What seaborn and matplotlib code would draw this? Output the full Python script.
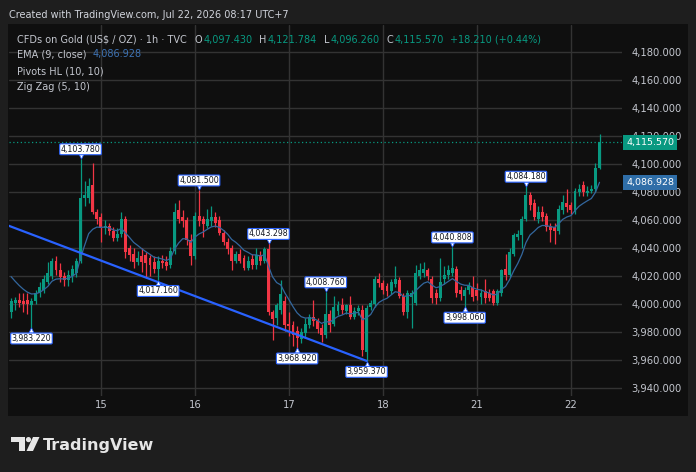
import numpy as np
import pandas as pd
import seaborn as sns
import matplotlib.pyplot as plt
import matplotlib.transforms as mtransforms

# hourly OHLC, CFDs on Gold (TVC), 14 Jul (part) .. 22 Jul 08:00 UTC+7
opens = [3994, 4001, 4003, 4002, 4003, 3999, 4002, 4008, 4010, 4016,
         4020, 4031, 4024, 4020, 4017, 4020, 4022, 4031, 4076, 4076,
         4085, 4066, 4062, 4054, 4056, 4052, 4047, 4050, 4061, 4040,
         4036, 4030, 4034, 4035, 4033, 4030, 4025, 4031, 4030, 4028,
         4038, 4067, 4062, 4060, 4046, 4034, 4063, 4061, 4056, 4059,
         4062, 4060, 4051, 4044, 4040, 4031, 4036, 4033, 4026, 4032,
         4028, 4035, 4031, 4039, 3994, 3990, 3996, 4002, 3986, 3985,
         3981, 3975, 3979, 3985, 3991, 3988, 3983, 3978, 3993, 3986,
         3995, 3999, 3995, 3999, 3991, 3995, 3996, 3966, 3998, 4000,
         4018, 4015, 4013, 4009, 4014, 4017, 4006, 3994, 4005, 4001,
         4020, 4022, 4024, 4018, 4008, 4004, 4018, 4021, 4022, 4025,
         4010, 4006, 4010, 4012, 4010, 4005, 4009, 4008, 4009, 4001,
         4008, 4025, 4021, 4036, 4048, 4049, 4061, 4078, 4072, 4061,
         4066, 4063, 4056, 4055, 4052, 4067, 4072, 4071, 4066, 4080,
         4085, 4079, 4081, 4082, 4097.43]
highs = [4004, 4005, 4008, 4008, 4008, 4004, 4010, 4016, 4021, 4030,
         4033, 4034, 4029, 4023, 4024, 4028, 4033, 4103.78, 4088, 4090,
         4101, 4068, 4065, 4060, 4058, 4055, 4054, 4066, 4063, 4042,
         4040, 4038, 4040, 4037, 4035, 4034, 4034, 4035, 4034, 4041,
         4072, 4074, 4067, 4062, 4050, 4066, 4081.5, 4063, 4068, 4070,
         4066, 4063, 4053, 4047, 4042, 4038, 4039, 4035, 4034, 4036,
         4040, 4038, 4041, 4043.298, 3996, 4001, 4017, 4006, 3994, 3988,
         3984, 3983, 3990, 3993, 4003, 3990, 3986, 4008.76, 3996, 4006,
         4002, 4004, 4000, 4006, 3998, 3999, 3999, 3999, 4003, 4020,
         4022, 4017, 4015, 4018, 4027, 4019, 4008, 4010, 4010, 4028,
         4029, 4030, 4026, 4020, 4011, 4033, 4027, 4028, 4040.808, 4027,
         4013, 4012, 4016, 4020, 4015, 4011, 4018, 4011, 4011, 4011,
         4025, 4036, 4040, 4051, 4053, 4063, 4084.18, 4080, 4075, 4070,
         4070, 4065, 4058, 4058, 4071, 4078, 4082, 4073, 4083, 4086,
         4088, 4084, 4085, 4101, 4121.784]
lows = [3990, 3996, 3998, 3994, 3993, 3983.22, 4000, 4005, 4008, 4014,
        4018, 4021, 4016, 4013, 4013, 4016, 4019, 4029, 4070, 4072,
        4064, 4057, 4044, 4050, 4049, 4045, 4045, 4048, 4033, 4031,
        4026, 4028, 4023, 4019, 4020, 4022, 4017.16, 4026, 4024, 4026,
        4036, 4058, 4055, 4042, 4028, 4032, 4056, 4048, 4054, 4056,
        4055, 4049, 4042, 4036, 4024, 4029, 4029, 4024, 4024, 4025,
        4025, 4028, 4029, 3992, 3974, 3985, 3993, 3981, 3977, 3970,
        3968.92, 3972, 3976, 3983, 3984, 3979, 3973, 3976, 3980, 3984,
        3992, 3993, 3993, 3989, 3989, 3992, 3963, 3959.37, 3996, 3998,
        4012, 4007, 4006, 4007, 4012, 4004, 3992, 3990, 3983, 3999,
        4018, 4019, 4017, 4001, 4000, 4002, 4014, 4018, 4020, 4005,
        4003, 3998.06, 4007, 4002, 4003, 4000, 4001, 4002, 3999, 3999,
        4006, 4017, 4019, 4034, 4046, 4040, 4059, 4067, 4060, 4058,
        4059, 4052, 4044, 4043, 4050, 4064, 4066, 4064, 4064, 4077,
        4077, 4077, 4079, 4080, 4096.26]
closes = [4002, 4003, 4001, 4000, 4000, 4002, 4008, 4012, 4018, 4022,
          4031, 4024, 4019, 4017, 4021, 4025, 4031, 4076, 4078, 4084,
          4066, 4061, 4054, 4056, 4052, 4047, 4050, 4061, 4037, 4035,
          4030, 4033, 4030, 4029, 4028, 4025, 4031, 4029, 4027, 4038,
          4066, 4061, 4059, 4046, 4034, 4063, 4059, 4057, 4061, 4062,
          4058, 4051, 4044, 4039, 4031, 4036, 4031, 4026, 4031, 4028,
          4035, 4031, 4039, 3994, 3989, 3999, 4007, 3985, 3984, 3978,
          3976, 3980, 3986, 3991, 3988, 3982, 3978, 3993, 3985, 3998,
          3999, 3996, 3999, 3991, 3995, 3997, 3967, 3997, 4001, 4018,
          4015, 4010, 4009, 4016, 4018, 4006, 3994, 4008, 4008, 4022,
          4024, 4025, 4020, 4004, 4004, 4016, 4021, 4024, 4026, 4008,
          4007, 4010, 4013, 4005, 4006, 4008, 4004, 4004, 4001, 4009,
          4024, 4021, 4037, 4049, 4050, 4061, 4078, 4071, 4062, 4066,
          4062, 4055, 4053, 4052, 4068, 4073, 4069, 4067, 4081, 4082.47,
          4080, 4081, 4082, 4097.36, 4115.57]

ema_seed = 4024.0          # EMA(9) carried in from bars left of the window
day_ticks = [22, 45, 68, 91, 114, 137]
day_labels = ['15', '16', '17', '18', '21', '22']
price_ticks = [3940, 3960, 3980, 4000, 4020, 4040, 4060, 4080, 4100, 4120, 4140, 4160, 4180]
pivot_high_idx = [17, 46, 63, 77, 108, 126]
pivot_low_idx = [5, 36, 70, 87, 111]
zigzag_idx = [-4, 87]
zigzag_price = [4059.7, 3959.37]

GREEN = '#089981'
RED = '#f23645'
EMA_COLOR = '#33679e'
ZZ_BLUE = '#2962ff'
TXT = '#c3c6ce'

sns.set_theme(style='dark', rc={'axes.facecolor': '#0f0f0f', 'figure.facecolor': '#1e1e1e',
                                'grid.color': '#333333', 'axes.edgecolor': '#0f0f0f'})
plt.rcParams['font.family'] = ['DejaVu Sans']

W, H = 696, 472
fig = plt.figure(figsize=(W / 100, H / 100), dpi=100)

# background panel + footer (pixel coords)
bg = fig.add_axes([0, 0, 1, 1], zorder=0)
bg.set_xlim(0, W)
bg.set_ylim(H, 0)
bg.axis('off')
bg.add_patch(plt.Rectangle((8, 24), 680, 392, color='#0f0f0f', lw=0))
bg.add_patch(plt.Polygon([(11, 437), (25, 437), (25, 451), (19, 451), (19, 442), (11, 442)],
                         color='#e6e6e6', lw=0))
bg.add_patch(plt.Circle((28.5, 439.6), 2.6, color='#e6e6e6', lw=0))
bg.add_patch(plt.Polygon([(33, 437), (39.5, 437), (33, 451), (26.5, 451)], color='#e6e6e6', lw=0))
bg.text(43, 450, 'TradingView', fontsize=11.5, fontweight='bold', color='#e6e6e6', va='baseline')

# main chart
ax = fig.add_axes([9 / W, 1 - 396 / H, (622 - 9) / W, (396 - 25) / H], zorder=1)
df = pd.DataFrame({'open': opens, 'high': highs, 'low': lows, 'close': closes})
df['idx'] = np.arange(len(df))
colors = np.where(df['close'] >= df['open'], GREEN, RED)

ax.vlines(df['idx'], df['low'], df['high'], colors=colors, linewidth=0.9, zorder=3)
body_low = df[['open', 'close']].min(axis=1)
body_h = (df['close'] - df['open']).abs().clip(lower=0.7)
ax.bar(df['idx'], body_h, bottom=body_low, width=0.72, color=colors, linewidth=0, zorder=4)

ema = pd.Series([ema_seed] + closes).ewm(span=9, adjust=False).mean().iloc[1:].to_numpy()
sns.lineplot(x=df['idx'].to_numpy(), y=ema, ax=ax, color=EMA_COLOR, linewidth=0.9,
             estimator=None, zorder=5)

ax.plot(zigzag_idx, zigzag_price, color=ZZ_BLUE, linewidth=1.6, zorder=6, solid_capstyle='round')

ax.axhline(closes[-1], color=GREEN, linestyle=(0, (1, 2)), linewidth=0.9, zorder=2)

# pivot labels
up_box = mtransforms.offset_copy(ax.transData, fig=fig, x=0, y=6.8, units='points')
up_tri = mtransforms.offset_copy(ax.transData, fig=fig, x=0, y=1.9, units='points')
dn_box = mtransforms.offset_copy(ax.transData, fig=fig, x=0, y=-7.9, units='points')
dn_tri = mtransforms.offset_copy(ax.transData, fig=fig, x=0, y=-1.9, units='points')
box = dict(boxstyle='round,pad=0.12,rounding_size=0.15', fc='white', ec=ZZ_BLUE, lw=0.8)
for i in pivot_high_idx:
    ax.scatter([i], [highs[i]], marker='v', s=14, color='white', edgecolor=ZZ_BLUE,
               linewidth=0.6, transform=up_tri, zorder=7)
    ax.text(i, highs[i], f'{highs[i]:,.3f}', transform=up_box, ha='center', va='center',
            fontsize=5.7, color='#131722', bbox=box, zorder=8, clip_on=True)
for i in pivot_low_idx:
    ax.scatter([i], [lows[i]], marker='^', s=14, color='white', edgecolor=ZZ_BLUE,
               linewidth=0.6, transform=dn_tri, zorder=7)
    ax.text(i, lows[i], f'{lows[i]:,.3f}', transform=dn_box, ha='center', va='center',
            fontsize=5.7, color='#131722', bbox=box, zorder=8, clip_on=True)

ax.set_xlim(-0.5, 149.5)
ax.set_ylim(3934.3, 4199.3)
ax.set_xlabel('')
ax.set_ylabel('')
for s in ax.spines.values():
    s.set_visible(False)
ax.set_yticks(price_ticks, [f'{p:,.3f}' for p in price_ticks])
ax.set_xticks(day_ticks, day_labels)
ax.yaxis.tick_right()
ax.tick_params(axis='y', length=0, pad=7, labelsize=7.2, labelcolor=TXT)
ax.tick_params(axis='x', length=0, pad=3, labelsize=7.2, labelcolor=TXT)
ax.grid(True, color='#333333', linewidth=1.0)
ax.set_axisbelow(True)

# last price / EMA tags on the price scale (they sit over the 4,120 / 4,080 labels as in TradingView)
for val, fc in [(closes[-1], GREEN), (ema[-1], '#2f6ea8')]:
    ax.annotate(f'{val:,.3f}', xy=(1, val), xycoords=('axes fraction', 'data'),
                xytext=(2.9, 0), textcoords='offset points', ha='left', va='center',
                fontsize=6.8, color='white', annotation_clip=False, zorder=9,
                bbox=dict(boxstyle='square,pad=0.3', fc=fc, ec='none'))

# header / legend overlay
top = fig.add_axes([0, 0, 1, 1], zorder=3)
top.set_xlim(0, W)
top.set_ylim(H, 0)
top.axis('off')
renderer = fig.canvas.get_renderer()


def write_run(x, y, parts, size=7.05):
    for s, c, gap in parts:
        t = top.text(x, y, s, color=c, fontsize=size, va='baseline', ha='left', parse_math=False)
        x += t.get_window_extent(renderer).width + gap


write_run(9, 17.5, [('Created with TradingView.com, Jul 22, 2026 08:17 UTC+7', '#d1d4dc', 0)])
chg = closes[-1] - closes[-2]
pct = chg / closes[-2] * 100
write_run(16.7, 43, [('CFDs on Gold (US$ / OZ) · 1h · TVC', TXT, 8),
                     ('O', TXT, 1), (f'{opens[-1]:,.3f}', GREEN, 7),
                     ('H', TXT, 1), (f'{highs[-1]:,.3f}', GREEN, 7),
                     ('L', TXT, 1), (f'{lows[-1]:,.3f}', GREEN, 7),
                     ('C', TXT, 1), (f'{closes[-1]:,.3f}', GREEN, 6),
                     (f'+{chg:,.3f} (+{pct:.2f}%)', GREEN, 0)])
write_run(16.7, 57.5, [('EMA (9, close)', TXT, 6), (f'{ema[-1]:,.3f}', '#3d72b3', 0)])
write_run(16.7, 74, [('Pivots HL (10, 10)', TXT, 0)])
write_run(16.7, 89.5, [('Zig Zag (5, 10)', TXT, 0)])

fig.savefig('out.png', dpi=100, facecolor=fig.get_facecolor())
